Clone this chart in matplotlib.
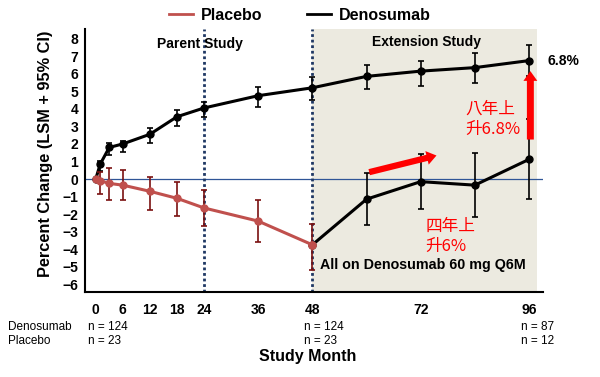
import numpy as np
import matplotlib
matplotlib.use('Agg')
import matplotlib.pyplot as plt

plt.rcParams['font.family'] = ['Liberation Sans', 'Noto Sans CJK TC', 'DejaVu Sans']

# Denosumab group (parent + extension)
deno_months = [0, 1, 3, 6, 12, 18, 24, 36, 48, 60, 72, 84, 96]
deno_mean = [0, 0.85, 1.8, 2.0, 2.55, 3.55, 4.05, 4.75, 5.2, 5.85, 6.15, 6.35, 6.75]
deno_lo = [0, 0.48, 1.35, 1.53, 2.04, 3.02, 3.52, 4.13, 4.52, 5.13, 5.28, 5.48, 5.9]
deno_hi = [0, 1.01, 2.03, 2.19, 2.91, 3.93, 4.37, 5.22, 5.79, 6.52, 6.74, 7.16, 7.65]

# Placebo group in parent study
pbo_months = [0, 1, 3, 6, 12, 18, 24, 36, 48]
pbo_mean = [0, -0.1, -0.25, -0.35, -0.7, -1.1, -1.65, -2.4, -3.75]
pbo_lo = [0, -0.84, -1.22, -1.22, -1.75, -2.08, -2.65, -3.61, -5.17]
pbo_hi = [0, 0.39, 0.61, 0.52, 0.14, -0.18, -0.65, -1.18, -2.55]

# former placebo group switched to denosumab (extension)
cross_months = [48, 60, 72, 84, 96]
cross_mean = [-3.75, -1.15, -0.15, -0.35, 1.12]
cross_lo = [-3.75, -2.64, -1.7, -2.17, -1.14]
cross_hi = [-3.75, 0.36, 1.43, 1.47, 3.4]

xticks = [0, 6, 12, 18, 24, 36, 48, 72, 96]
yticks = list(range(-6, 9))
n_months = [0, 48, 96]
n_deno = ['n = 124', 'n = 124', 'n = 87']
n_pbo = ['n = 23', 'n = 23', 'n = 12']

red = '#C0504D'

fig = plt.figure(figsize=(6, 3.77), dpi=100)
ax = fig.add_axes([0.1417, 0.2255, 0.905 - 0.1417, 0.923 - 0.2255])

ax.set_xlim(-2.37, 99.1)
ax.set_ylim(-6.44, 8.55)

# extension shading
ax.axvspan(48, 97.8, color='#ECEAE0', lw=0, zorder=0)
ax.axhline(0, color='#2F5597', lw=0.9, zorder=1)
for m in [24, 48]:
    ax.axvline(m, color='#1F3864', lw=2, ls=(0, (1, 1)), zorder=1.5)

def errs(mean, lo, hi):
    mean = np.array(mean)
    return [mean - np.array(lo), np.array(hi) - mean]

ax.errorbar(pbo_months, pbo_mean, yerr=errs(pbo_mean, pbo_lo, pbo_hi), color=red,
            ecolor='#7A1010', elinewidth=1.2, capsize=2.5, capthick=1.2,
            lw=2.2, marker='o', ms=5, zorder=4)
ax.errorbar(cross_months, cross_mean, yerr=errs(cross_mean, cross_lo, cross_hi), color='black',
            ecolor='black', elinewidth=1.2, capsize=2.5, capthick=1.2,
            lw=2.2, marker='o', ms=5, zorder=3)
ax.errorbar(deno_months, deno_mean, yerr=errs(deno_mean, deno_lo, deno_hi), color='black',
            ecolor='black', elinewidth=1.2, capsize=2.5, capthick=1.2,
            lw=2.2, marker='o', ms=5, zorder=3)
ax.plot(cross_months[:1], cross_mean[:1], 'o', color=red, ms=5, zorder=5)

# red arrows
ax.annotate('', xy=(96.3, 6.15), xytext=(96.3, 2.25),
            arrowprops=dict(arrowstyle='simple,head_length=0.7,head_width=1.0,tail_width=0.5',
                            color='red', lw=0, mutation_scale=10, shrinkA=0, shrinkB=0), zorder=6)
ax.annotate('', xy=(75.5, 1.34), xytext=(60.6, 0.39),
            arrowprops=dict(arrowstyle='simple,head_length=0.7,head_width=1.0,tail_width=0.45',
                            color='red', lw=0, mutation_scale=10, shrinkA=0, shrinkB=0), zorder=6)

ax.text(81.8, 3.4, '八年上\n升6.8%', color='red', fontsize=12, ha='left', va='center',
        family=['Noto Sans CJK TC', 'DejaVu Sans'], linespacing=1.25)
ax.text(73.0, -3.25, '四年上\n升6%', color='red', fontsize=12, ha='left', va='center',
        family=['Noto Sans CJK TC', 'DejaVu Sans'], linespacing=1.25)

ax.text(23.2, 7.7, 'Parent Study', fontsize=10, fontweight='bold', ha='center', va='center')
ax.text(73.3, 7.8, 'Extension Study', fontsize=10, fontweight='bold', ha='center', va='center')
ax.text(72.5, -4.9, 'All on Denosumab 60 mg Q6M', fontsize=10.3, fontweight='bold',
        ha='center', va='center')
ax.text(100, 6.75, '6.8%', fontsize=10, fontweight='bold', ha='left', va='center', clip_on=False)

ax.set_xticks(xticks)
ax.set_yticks(yticks)
ax.set_yticklabels([str(v).replace('-', '\u2212') for v in yticks])
ax.tick_params(axis='x', length=0, labelsize=10, pad=8)
ax.tick_params(axis='y', length=0, labelsize=10, pad=5)
for lab in ax.get_xticklabels() + ax.get_yticklabels():
    lab.set_fontweight('bold')
ax.spines['top'].set_visible(False)
ax.spines['right'].set_visible(False)
ax.spines['left'].set_linewidth(1.5)
ax.spines['bottom'].set_linewidth(1.5)

ax.set_ylabel('Percent Change (LSM + 95% CI)', fontsize=11.8, fontweight='bold')
ax.yaxis.set_label_coords(-0.07, 0.527)
fig.text(308 / 600, 1 - 357 / 377, 'Study Month', fontsize=11.5, fontweight='bold',
         ha='center', va='center')

# n table
fig.text(8 / 600, 1 - 327 / 377, 'Denosumab', fontsize=8.5, va='center')
fig.text(8 / 600, 1 - 341 / 377, 'Placebo', fontsize=8.5, va='center')
for m, a, b in zip(n_months, n_deno, n_pbo):
    xf = (95.7 + m * 4.514 - 8) / 600
    fig.text(xf, 1 - 327 / 377, a, fontsize=8.5, va='center')
    fig.text(xf, 1 - 341 / 377, b, fontsize=8.5, va='center')

# legend
h1, = ax.plot([], [], color=red, lw=2)
h2, = ax.plot([], [], color='black', lw=2)
fig.legend([h1, h2], ['Placebo', 'Denosumab'], loc='center', bbox_to_anchor=(0.5, 0.96),
           ncol=2, frameon=False, prop={'weight': 'bold', 'size': 11.5},
           handlelength=1.5, columnspacing=2.8, handletextpad=0.5)

fig.savefig('out.png', dpi=100)
